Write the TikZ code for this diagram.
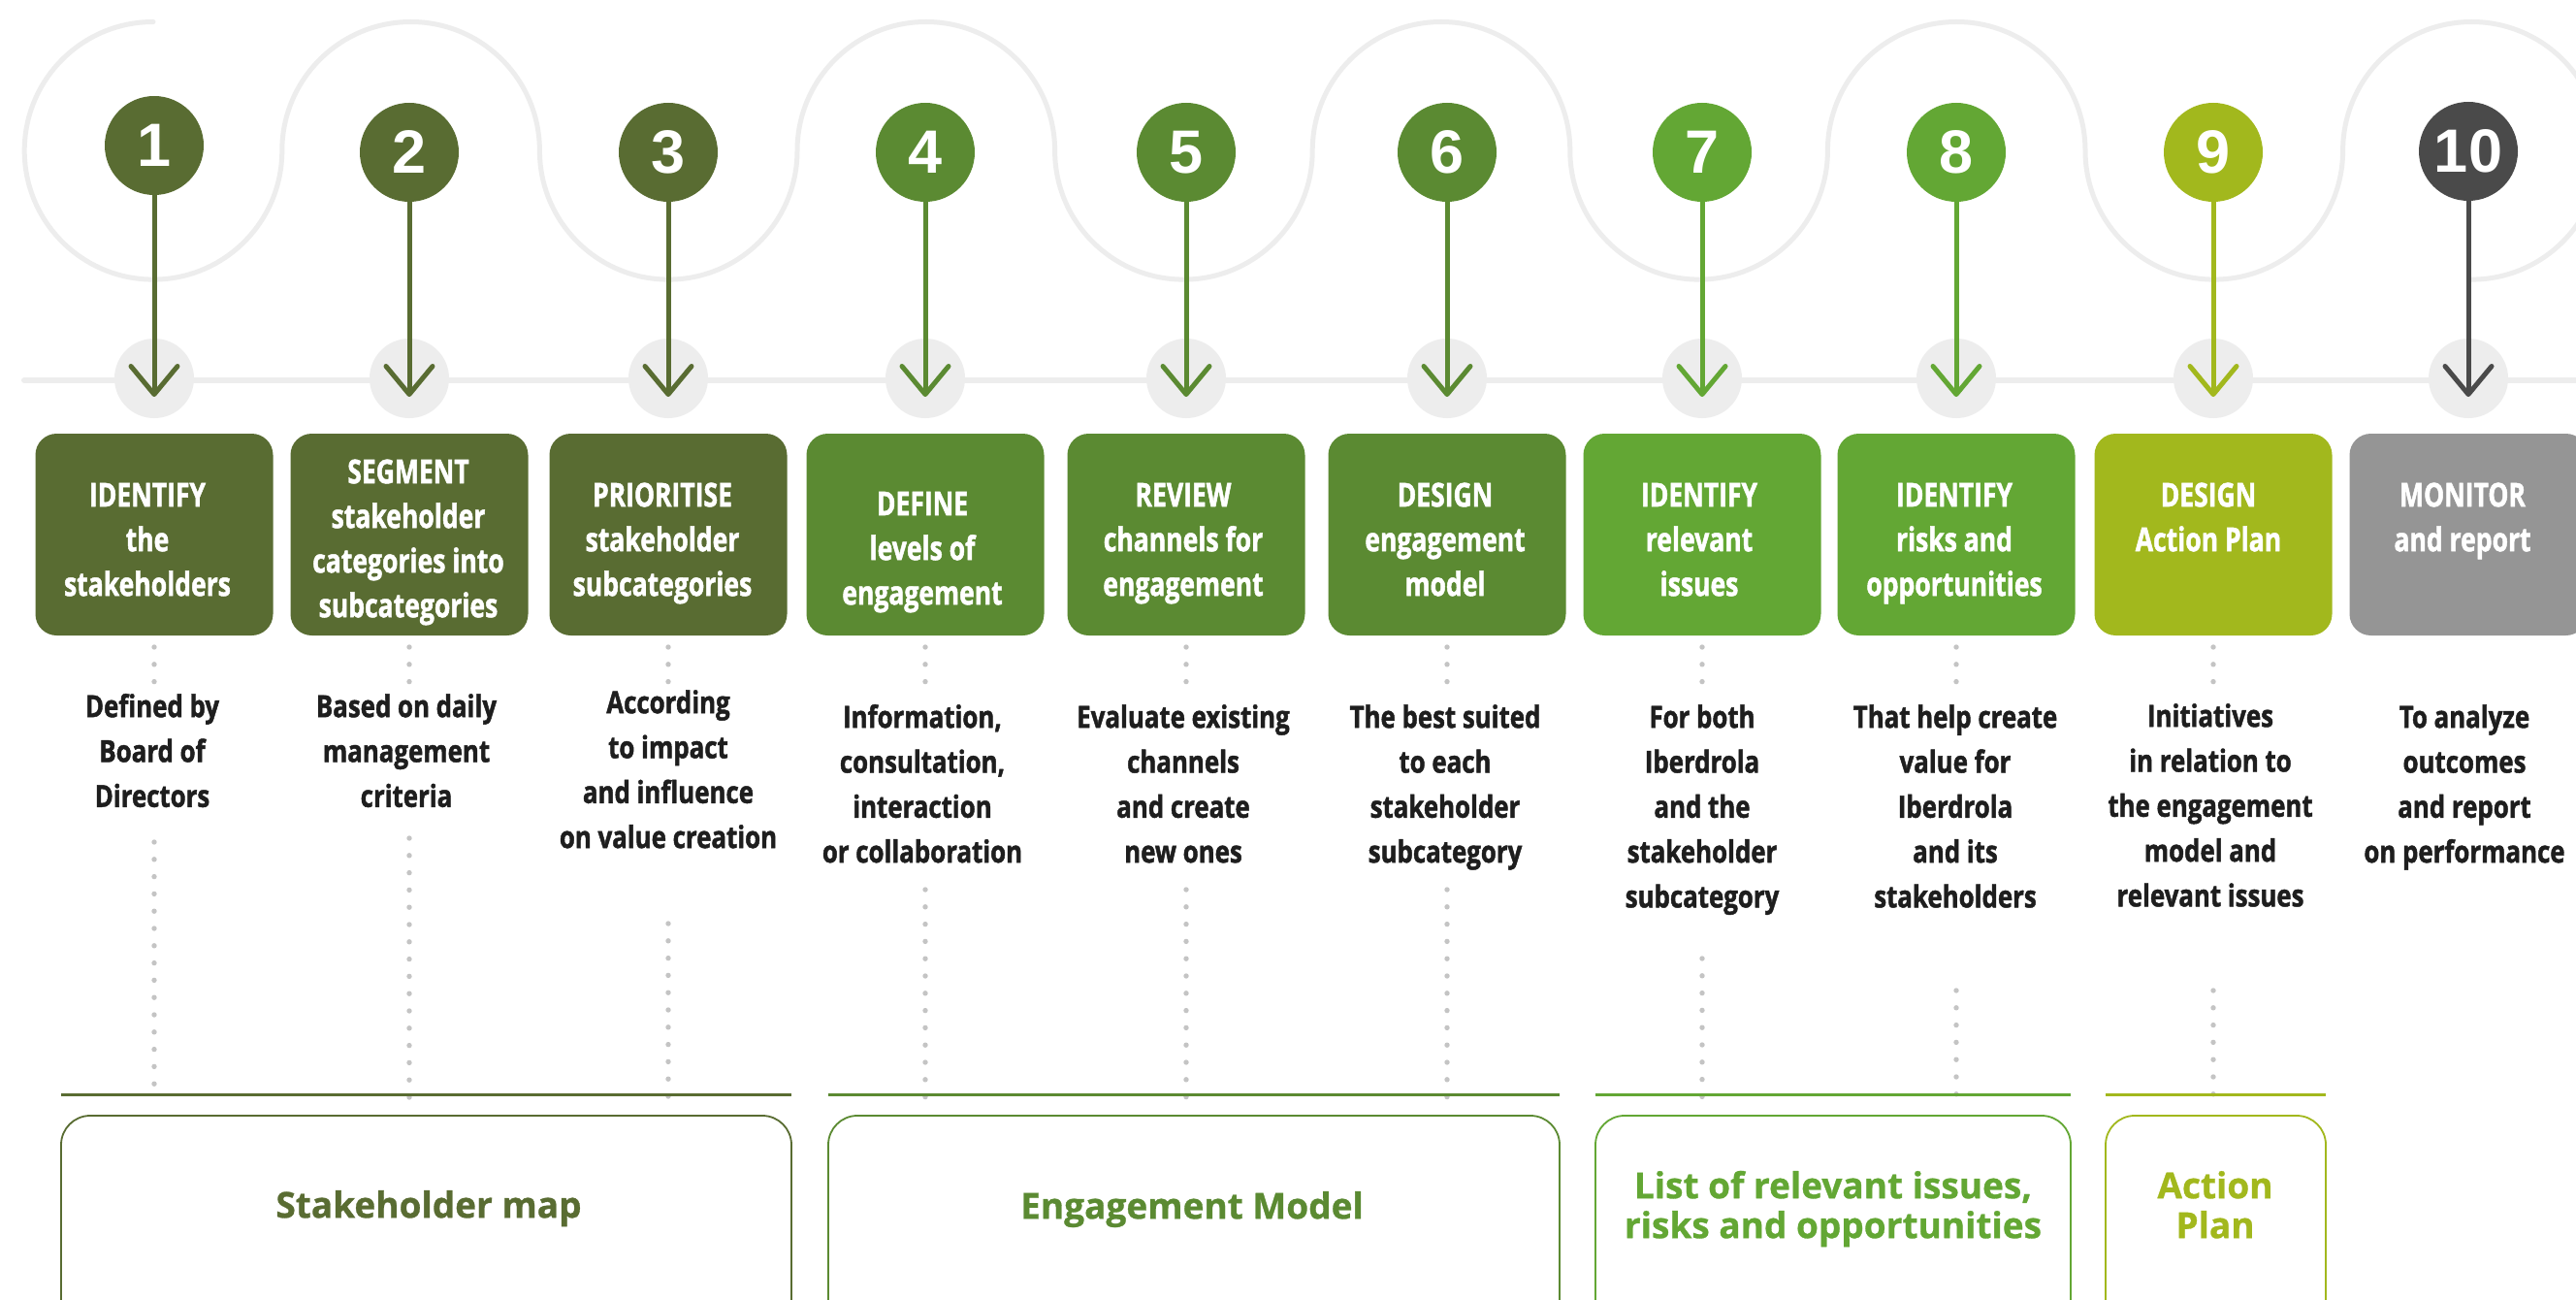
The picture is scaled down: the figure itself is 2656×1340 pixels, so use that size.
\documentclass[tikz,border=0pt]{standalone}
\usepackage{fontspec}
\setmainfont{Open Sans}
\newfontfamily\boxfont[FakeStretch=0.78,FakeBold=1.4]{Open Sans}
\newfontfamily\descfont[FakeStretch=0.82,FakeBold=1.4]{Open Sans}
\newfontfamily\grpfont[FakeBold=0.8]{Open Sans}
\newfontfamily\numfont{Liberation Sans}
\usetikzlibrary{arrows.meta}
\definecolor{colA}{HTML}{596C32}
\definecolor{colB}{HTML}{5B8A32}
\definecolor{colC}{HTML}{63A734}
\definecolor{colD}{HTML}{A2B81D}
\definecolor{colE}{HTML}{4A4A4A}
\definecolor{colF}{HTML}{959595}
\definecolor{lgray}{HTML}{EDEDED}
\definecolor{dotgray}{HTML}{C4C4C4}
\definecolor{txt}{HTML}{1E1E1E}
\newcommand\fl{\rule{0pt}{30pt}}
\tikzset{
  wave/.style={draw=lgray, line width=5pt, line cap=round},
  hline/.style={draw=lgray, line width=6pt, line cap=round},
  gcirc/.style={circle, fill=lgray, minimum size=82pt, inner sep=0pt},
  numc/.style={circle, minimum size=102pt, inner sep=0pt, text=white, font={\numfont\bfseries\fontsize{63}{63}\selectfont}},
  arr/.style={line width=5pt, -{Straight Barb[length=29pt,width=48pt,round]}},
  stepbox/.style={rounded corners=22pt, minimum width=245pt, minimum height=208pt, inner sep=0pt},
  boxtxt/.style={anchor=north, inner sep=0pt, align=center, text=white, font={\boxfont\bfseries\fontsize{34}{46}\selectfont}},
  desctxt/.style={anchor=north, inner sep=0pt, align=center, text=txt, font={\descfont\bfseries\fontsize{31.5}{46.3}\selectfont}},
  dots/.style={draw=dotgray, line width=5.4pt, line cap=round, dash pattern=on 0pt off 17.8pt},
  uline/.style={line width=3pt},
  grpbox/.style={rounded corners=30pt, line width=1.8pt, inner sep=0pt, minimum height=220pt},
  grptxt/.style={anchor=north, inner sep=0pt, align=center, font={\grpfont\bfseries\fontsize{37}{41}\selectfont}},
}
\begin{document}
\begin{tikzpicture}[x=1pt, y=-1pt]
\clip (0,0) rectangle (2656,1340);
\fill[white] (0,0) rectangle (2656,1340);
% wave
\draw[wave] (158,22.5) arc[start angle=-90,end angle=-360,radius=132.8]
  arc[start angle=180,end angle=360,radius=132.8]
  arc[start angle=180,end angle=0,radius=132.8]
  arc[start angle=180,end angle=360,radius=132.8]
  arc[start angle=180,end angle=0,radius=132.8]
  arc[start angle=180,end angle=360,radius=132.8]
  arc[start angle=180,end angle=0,radius=132.8]
  arc[start angle=180,end angle=360,radius=132.8]
  arc[start angle=180,end angle=0,radius=132.8]
  arc[start angle=180,end angle=450,radius=132.8];
% horizontal line
\coordinate (hl0) at (25,392);
\coordinate (hl1) at (2700,392);
\draw[hline] (hl0) -- (hl1);
% gray circles, number circles, arrows
\foreach \i/\x/\y/\c in {1/159/150/colA,2/422/157/colA,3/689/157/colA,4/954/157/colB,5/1223/157/colB,6/1492/157/colB,7/1755/157/colC,8/2017/157/colC,9/2282/157/colD,10/2545/156/colE}{
  \node[gcirc] (g\i) at (\x,390) {};
  \coordinate (a\i) at (\x,409);
  \node[numc, fill=\c] (n\i) at (\x,\y) {\i};
  \draw[arr, draw=\c] (n\i.south) -- (a\i);
}
% step boxes
\foreach \i/\x/\c in {1/159/colA,2/422/colA,3/689/colA,4/954/colB,5/1223/colB,6/1492/colB,7/1755/colC,8/2017/colC,9/2282/colD,10/2545/colF}{
  \node[stepbox, fill=\c] (b\i) at (\x,551) {};
}
\node[boxtxt] (bt1) at (152,492) {\fl IDENTIFY\\the\\stakeholders};
\node[boxtxt] (bt2) at (421,468) {\fl SEGMENT\\stakeholder\\categories into\\subcategories};
\node[boxtxt] (bt3) at (683,492) {\fl PRIORITISE\\stakeholder\\subcategories};
\node[boxtxt] (bt4) at (951,501) {\fl DEFINE\\levels of\\engagement};
\node[boxtxt] (bt5) at (1220,492) {\fl REVIEW\\channels for\\engagement};
\node[boxtxt] (bt6) at (1490,492) {\fl DESIGN\\engagement\\model};
\node[boxtxt] (bt7) at (1752,492) {\fl IDENTIFY\\relevant\\issues};
\node[boxtxt] (bt8) at (2015,492) {\fl IDENTIFY\\risks and\\opportunities};
\node[boxtxt] (bt9) at (2277,492) {\fl DESIGN\\Action Plan};
\node[boxtxt] (bt10) at (2539,492) {\fl MONITOR\\and report};
% descriptions
\node[desctxt] (d1) at (157,709) {\fl Defined by\\Board of\\Directors};
\node[desctxt] (d2) at (419,709) {\fl Based on daily\\management\\criteria};
\node[desctxt] (d3) at (689,705) {\fl According\\to impact\\and influence\\on value creation};
\node[desctxt] (d4) at (951,720) {\fl Information,\\consultation,\\interaction\\or collaboration};
\node[desctxt] (d5) at (1220,720) {\fl Evaluate existing\\channels\\and create\\new ones};
\node[desctxt] (d6) at (1490,720) {\fl The best suited\\to each\\stakeholder\\subcategory};
\node[desctxt] (d7) at (1755,720) {\fl For both\\Iberdrola\\and the\\stakeholder\\subcategory};
\node[desctxt] (d8) at (2016,720) {\fl That help create\\value for\\Iberdrola\\and its\\stakeholders};
\node[desctxt] (d9) at (2279,719) {\fl Initiatives\\in relation to\\the engagement\\model and\\relevant issues};
\node[desctxt] (d10) at (2541,720) {\fl To analyze\\outcomes\\and report\\on performance};
% dotted connectors
\foreach \i/\x/\s in {1/159/868,2/422/864,3/689/952,4/954/917,5/1223/917,6/1492/917,7/1755/988,8/2017/1021,9/2282/1021}{
  \coordinate (p\i) at (\x,667);
  \coordinate (q\i) at (\x,704);
  \coordinate (r\i) at (\x,\s);
  \coordinate (s\i) at (\x,1131);
  \draw[dots] (p\i) -- (q\i);
  \draw[dots] (r\i) -- (s\i);
}
% underlines and group boxes
\foreach \i/\xa/\xb/\c in {1/63/816/colA,2/854/1608/colB,3/1645/2135/colC,4/2171/2398/colD}{
  \coordinate (u\i a) at (\xa,1128);
  \coordinate (u\i b) at (\xb,1128);
  \draw[uline, draw=\c] (u\i a) -- (u\i b);
  \node[grpbox, draw=\c, minimum width={\xb-\xa}] (m\i) at ({(\xa+\xb)/2},1260) {};
}
\node[grptxt, text=colA] (mt1) at (442,1225) {\fl Stakeholder map};
\node[grptxt, text=colB] (mt2) at (1229,1226) {\fl Engagement Model};
\node[grptxt, text=colC] (mt3) at (1890,1205) {\fl List of relevant issues,\\risks and opportunities};
\node[grptxt, text=colD] (mt4) at (2284,1205) {\fl Action\\Plan};
\end{tikzpicture}
\end{document}
